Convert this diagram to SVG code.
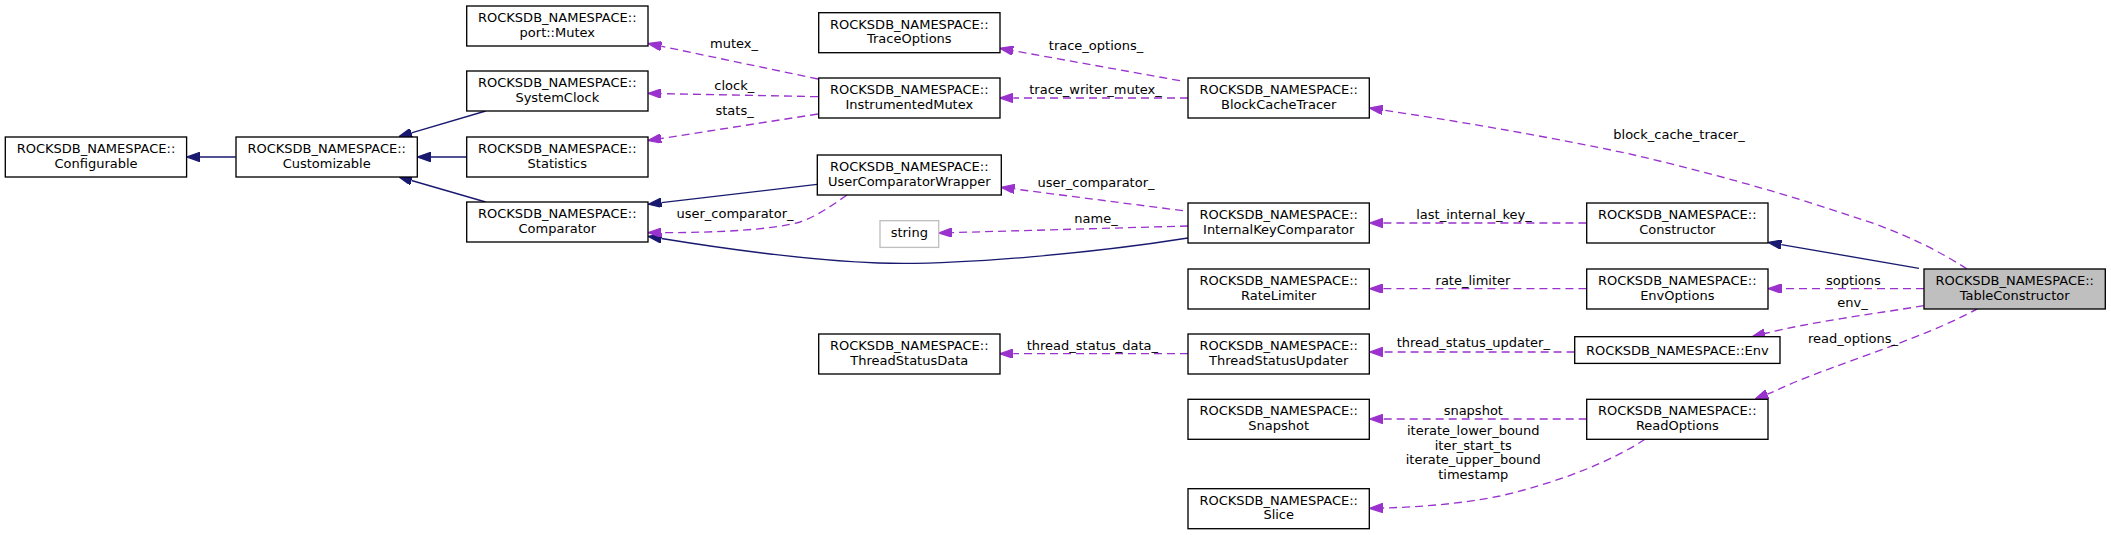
<svg xmlns="http://www.w3.org/2000/svg" width="2111" height="535" viewBox="0 0 2111 535">
<style>
text{font-family:"DejaVu Sans","Liberation Sans",sans-serif;font-size:13px;fill:#000;text-anchor:middle}
.n rect{fill:#fff;stroke:#000;stroke-width:1.33}
.cur rect{fill:#bfbfbf}
.und rect{stroke:#bfbfbf}
.inh{fill:none;stroke:#191970;stroke-width:1.33;marker-end:url(#ah)}
.use{fill:none;stroke:#9a32cd;stroke-width:1.33;stroke-dasharray:8,5;marker-end:url(#ap)}
</style>
<defs>
<marker id="ah" viewBox="0 0 10 7" refX="0" refY="3.5" markerWidth="13.3" markerHeight="9.3" markerUnits="userSpaceOnUse" orient="auto"><polygon points="0,0 10,3.5 0,7" fill="#191970" stroke="#191970"/></marker>
<marker id="ap" viewBox="0 0 10 7" refX="0" refY="3.5" markerWidth="13.3" markerHeight="9.3" markerUnits="userSpaceOnUse" orient="auto"><polygon points="0,0 10,3.5 0,7" fill="#9a32cd" stroke="#9a32cd"/></marker>
</defs>
<rect width="2111" height="535" fill="#fff"/>
<g id="edges">
<path class="inh" d="M235.7,157 L200,157"/>
<path class="inh" d="M466.7,157 L430.7,157"/>
<path class="inh" d="M485.7,111 L411.5,132.9"/>
<path class="inh" d="M485.7,202 L411.5,180.5"/>
<path class="inh" d="M817,184.3 L661.5,202.7"/>
<path class="inh" d="M1188,238 C1100,252 960,266 878,263 C800,260 720,248 661.5,238.5"/>
<path class="use" d="M847,195 C830,207 815,217 800,222 C770,230 720,232.5 661.5,232.7"/>
<path class="use" d="M818,79 L661.2,46.2"/>
<path class="use" d="M818,96.7 L661.3,93.6"/>
<path class="use" d="M818,114 L661.1,138.5"/>
<path class="use" d="M1180,80.7 L1013.1,50.7"/>
<path class="use" d="M1188,98 L1013.3,98"/>
<path class="use" d="M1183,210.7 L1014.5,189"/>
<path class="use" d="M1188,226 L952.1,232.6"/>
<path class="use" d="M1967,269 C1930,245 1890,228 1853,216.7 C1780,192 1700,170 1626.7,153.3 C1540,135 1450,120 1382.7,110"/>
<path class="use" d="M1586.4,223 L1383,223"/>
<path class="inh" d="M1919,268.3 L1781.3,244.6"/>
<path class="use" d="M1924,288.7 L1781.5,288.7"/>
<path class="use" d="M1586.4,288.7 L1383,288.7"/>
<path class="use" d="M1923.7,305.7 C1880,313 1810,322 1764.9,333.5"/>
<path class="use" d="M1574.6,352 L1383,352"/>
<path class="use" d="M1188,353.7 L1013.3,353.7"/>
<path class="use" d="M1978,308.3 C1940,330 1880,350 1830.7,368.3 S1790,385 1767.3,394.2"/>
<path class="use" d="M1586.7,419 L1383,419"/>
<path class="use" d="M1645,439.3 C1610,462 1560,482 1500,496 C1460,504 1420,507 1383,508"/>
<text x="734" y="47.5">mutex_</text>
<text x="734.3" y="90">clock_</text>
<text x="734.6" y="115">stats_</text>
<text x="735" y="218">user_comparator_</text>
<text x="1096" y="50">trace_options_</text>
<text x="1095.5" y="94">trace_writer_mutex_</text>
<text x="1096" y="187">user_comparator_</text>
<text x="1096" y="223">name_</text>
<text x="1092.4" y="350">thread_status_data_</text>
<text x="1679" y="138.5">block_cache_tracer_</text>
<text x="1474" y="218.5">last_internal_key_</text>
<text x="1473" y="285">rate_limiter</text>
<text x="1473.3" y="347">thread_status_updater_</text>
<text x="1473.3" y="415">snapshot</text>
<text x="1473.3" y="435">iterate_lower_bound</text>
<text x="1473.3" y="449.5">iter_start_ts</text>
<text x="1473.3" y="464">iterate_upper_bound</text>
<text x="1473.3" y="478.5">timestamp</text>
<text x="1853.4" y="285">soptions</text>
<text x="1852.5" y="307">env_</text>
<text x="1853" y="342.5">read_options_</text>
</g>
<g id="configurable" class="n"><rect x="5.3" y="137" width="181.3" height="40"/><text x="96" y="153">ROCKSDB_NAMESPACE::</text><text x="96" y="167.7">Configurable</text></g>
<g id="customizable" class="n"><rect x="236" y="137" width="181.3" height="40"/><text x="326.7" y="153">ROCKSDB_NAMESPACE::</text><text x="326.7" y="167.7">Customizable</text></g>
<g id="portmutex" class="n"><rect x="466.7" y="6" width="181.3" height="40"/><text x="557.3" y="22">ROCKSDB_NAMESPACE::</text><text x="557.3" y="36.7">port::Mutex</text></g>
<g id="systemclock" class="n"><rect x="466.7" y="71" width="181.3" height="40"/><text x="557.3" y="87">ROCKSDB_NAMESPACE::</text><text x="557.3" y="101.7">SystemClock</text></g>
<g id="statistics" class="n"><rect x="466.7" y="137" width="181.3" height="40"/><text x="557.3" y="153">ROCKSDB_NAMESPACE::</text><text x="557.3" y="167.7">Statistics</text></g>
<g id="comparator" class="n"><rect x="466.7" y="202" width="181.3" height="40"/><text x="557.3" y="218">ROCKSDB_NAMESPACE::</text><text x="557.3" y="232.7">Comparator</text></g>
<g id="traceoptions" class="n"><rect x="818.7" y="12.7" width="181.3" height="40"/><text x="909.3" y="28.7">ROCKSDB_NAMESPACE::</text><text x="909.3" y="43.4">TraceOptions</text></g>
<g id="instrumentedmutex" class="n"><rect x="818.7" y="78" width="181.3" height="40"/><text x="909.3" y="94">ROCKSDB_NAMESPACE::</text><text x="909.3" y="108.7">InstrumentedMutex</text></g>
<g id="usercomparatorwrapper" class="n"><rect x="817.3" y="155" width="184" height="40"/><text x="909.3" y="171">ROCKSDB_NAMESPACE::</text><text x="909.3" y="185.7">UserComparatorWrapper</text></g>
<g id="string" class="n und"><rect x="880" y="220.7" width="58.7" height="26.7"/><text x="909.3" y="236.7">string</text></g>
<g id="threadstatusdata" class="n"><rect x="818.7" y="334" width="181.3" height="40"/><text x="909.3" y="350">ROCKSDB_NAMESPACE::</text><text x="909.3" y="364.7">ThreadStatusData</text></g>
<g id="blockcachetracer" class="n"><rect x="1188" y="78" width="181.3" height="40"/><text x="1278.7" y="94">ROCKSDB_NAMESPACE::</text><text x="1278.7" y="108.7">BlockCacheTracer</text></g>
<g id="internalkeycomparator" class="n"><rect x="1188" y="203" width="181.3" height="40"/><text x="1278.7" y="219">ROCKSDB_NAMESPACE::</text><text x="1278.7" y="233.7">InternalKeyComparator</text></g>
<g id="ratelimiter" class="n"><rect x="1188" y="269" width="181.3" height="40"/><text x="1278.7" y="285">ROCKSDB_NAMESPACE::</text><text x="1278.7" y="299.7">RateLimiter</text></g>
<g id="threadstatusupdater" class="n"><rect x="1188" y="334" width="181.3" height="40"/><text x="1278.7" y="350">ROCKSDB_NAMESPACE::</text><text x="1278.7" y="364.7">ThreadStatusUpdater</text></g>
<g id="snapshot" class="n"><rect x="1188" y="399.3" width="181.3" height="40"/><text x="1278.7" y="415.3">ROCKSDB_NAMESPACE::</text><text x="1278.7" y="430">Snapshot</text></g>
<g id="slice" class="n"><rect x="1188" y="488.7" width="181.3" height="40"/><text x="1278.7" y="504.7">ROCKSDB_NAMESPACE::</text><text x="1278.7" y="519.4">Slice</text></g>
<g id="constructor" class="n"><rect x="1586.7" y="203" width="181.3" height="40"/><text x="1677.3" y="219">ROCKSDB_NAMESPACE::</text><text x="1677.3" y="233.7">Constructor</text></g>
<g id="envoptions" class="n"><rect x="1586.7" y="269" width="181.3" height="40"/><text x="1677.3" y="285">ROCKSDB_NAMESPACE::</text><text x="1677.3" y="299.7">EnvOptions</text></g>
<g id="env" class="n"><rect x="1574.7" y="336.7" width="205.3" height="26.7"/><text x="1677.3" y="354.5">ROCKSDB_NAMESPACE::Env</text></g>
<g id="readoptions" class="n"><rect x="1586.7" y="399.3" width="181.3" height="40"/><text x="1677.3" y="415.3">ROCKSDB_NAMESPACE::</text><text x="1677.3" y="430">ReadOptions</text></g>
<g id="tableconstructor" class="n cur"><rect x="1924" y="269" width="181.3" height="40"/><text x="2014.7" y="285">ROCKSDB_NAMESPACE::</text><text x="2014.7" y="299.7">TableConstructor</text></g>
</svg>
